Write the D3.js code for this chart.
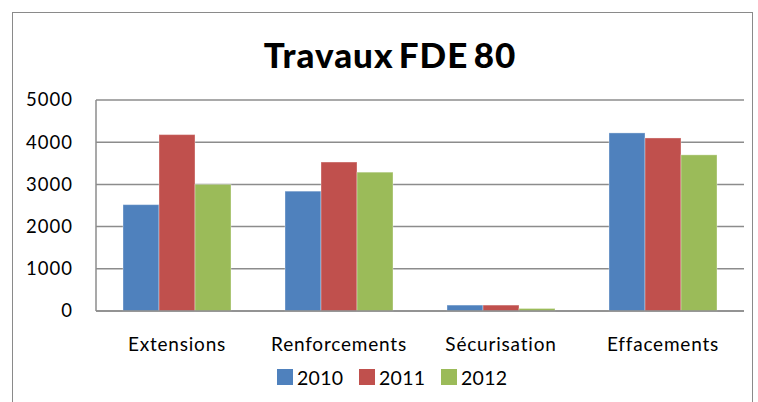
<!DOCTYPE html>
<html>
<head>
<meta charset="utf-8">
<script src="https://cdn.jsdelivr.net/npm/d3@7"></script>
<style>
  body { margin: 0; background: #fff; }
  text { font-family: Lato, "Open Sans", sans-serif; fill: #000; }
</style>
</head>
<body>
<div id="chart"></div>
<script>
// Data
const categories = ["Extensions", "Renforcements", "Sécurisation", "Effacements"];
const years = ["2010", "2011", "2012"];
const values2010 = [2520, 2840, 140, 4220];
const values2011 = [4180, 3530, 140, 4100];
const values2012 = [3000, 3290, 60, 3700];
const yTicks = [0, 1000, 2000, 3000, 4000, 5000];
const colors = ["#4F81BD", "#C0504D", "#9BBB59"];

const series = [values2010, values2011, values2012];

const width = 758, height = 402;
const plot = { left: 96, right: 744, top: 100, bottom: 311 };

const svg = d3.select("#chart")
  .append("svg")
  .attr("width", width)
  .attr("height", height);

// Outer chart border
svg.append("rect")
  .attr("x", 12.5)
  .attr("y", 12.5)
  .attr("width", 740)
  .attr("height", 420)
  .attr("fill", "none")
  .attr("stroke", "#8a8a8a")
  .attr("stroke-width", 1);

// Title
svg.append("text")
  .attr("x", 390)
  .attr("y", 68)
  .attr("text-anchor", "middle")
  .style("font-size", "35px")
  .style("font-weight", "900")
  .style("letter-spacing", "1px")
  .style("word-spacing", "-4px")
  .text("Travaux FDE 80");

const x0 = d3.scaleBand()
  .domain(categories)
  .range([plot.left, plot.right])
  .paddingInner(0)
  .paddingOuter(0);

const x1 = d3.scaleBand()
  .domain(years)
  .range([0, x0.bandwidth()])
  .paddingOuter(0.75)
  .paddingInner(0);

const y = d3.scaleLinear()
  .domain([0, 5000])
  .range([plot.bottom, plot.top]);

// Gridlines
svg.append("g")
  .selectAll("line")
  .data(yTicks)
  .enter()
  .append("line")
  .attr("x1", plot.left)
  .attr("x2", plot.right)
  .attr("y1", d => y(d))
  .attr("y2", d => y(d))
  .attr("stroke", "#8c8c8c")
  .attr("stroke-width", 1.5);

// Left axis line
svg.append("line")
  .attr("x1", plot.left)
  .attr("x2", plot.left)
  .attr("y1", plot.top)
  .attr("y2", plot.bottom)
  .attr("stroke", "#8c8c8c")
  .attr("stroke-width", 1.5);

// Y axis labels
const yAxis = d3.axisLeft(y).tickValues(yTicks).tickFormat(d3.format("d")).tickSize(0).tickPadding(23);
const yg = svg.append("g")
  .attr("transform", `translate(${plot.left},0)`)
  .call(yAxis);
yg.select(".domain").remove();
yg.selectAll("text")
  .style("font-size", "18.5px")
  .style("letter-spacing", "1px")
  .style("font-family", "Lato, 'Open Sans', sans-serif")
  .attr("fill", "#000");

// Bars
const groups = svg.append("g")
  .selectAll("g")
  .data(categories)
  .enter()
  .append("g")
  .attr("transform", d => `translate(${x0(d)},0)`);

groups.selectAll("rect")
  .data((d, i) => years.map((yr, j) => ({ yr, value: series[j][i], color: colors[j] })))
  .enter()
  .append("rect")
  .attr("x", d => x1(d.yr))
  .attr("width", x1.bandwidth())
  .attr("y", d => y(d.value))
  .attr("height", d => y(0) - y(d.value))
  .attr("fill", d => d.color)
  .attr("stroke", "rgba(255,255,255,0.35)")
  .attr("stroke-width", 1);

// Zero line over bars
svg.append("line")
  .attr("x1", plot.left)
  .attr("x2", plot.right)
  .attr("y1", y(0))
  .attr("y2", y(0))
  .attr("stroke", "#8c8c8c")
  .attr("stroke-width", 1.5);

// X labels
const xAxis = d3.axisBottom(x0).tickSize(0);
const xg = svg.append("g")
  .attr("transform", `translate(0,${plot.bottom})`)
  .call(xAxis);
xg.select(".domain").remove();
xg.selectAll("text")
  .attr("y", 40)
  .attr("dy", 0)
  .style("font-size", "19px")
  .style("letter-spacing", "0.8px")
  .style("font-family", "Lato, 'Open Sans', sans-serif")
  .attr("fill", "#000");

// Legend
const legendX = [277, 359, 441];
const legend = svg.append("g")
  .selectAll("g")
  .data(years)
  .enter()
  .append("g")
  .attr("transform", (d, i) => `translate(${legendX[i]},369)`);

legend.append("rect")
  .attr("width", 16)
  .attr("height", 16)
  .attr("fill", (d, i) => colors[i]);

legend.append("text")
  .attr("x", 20)
  .attr("y", 16)
  .style("font-size", "19.5px")
  .style("letter-spacing", "0.3px")
  .text(d => d);
</script>
</body>
</html>
